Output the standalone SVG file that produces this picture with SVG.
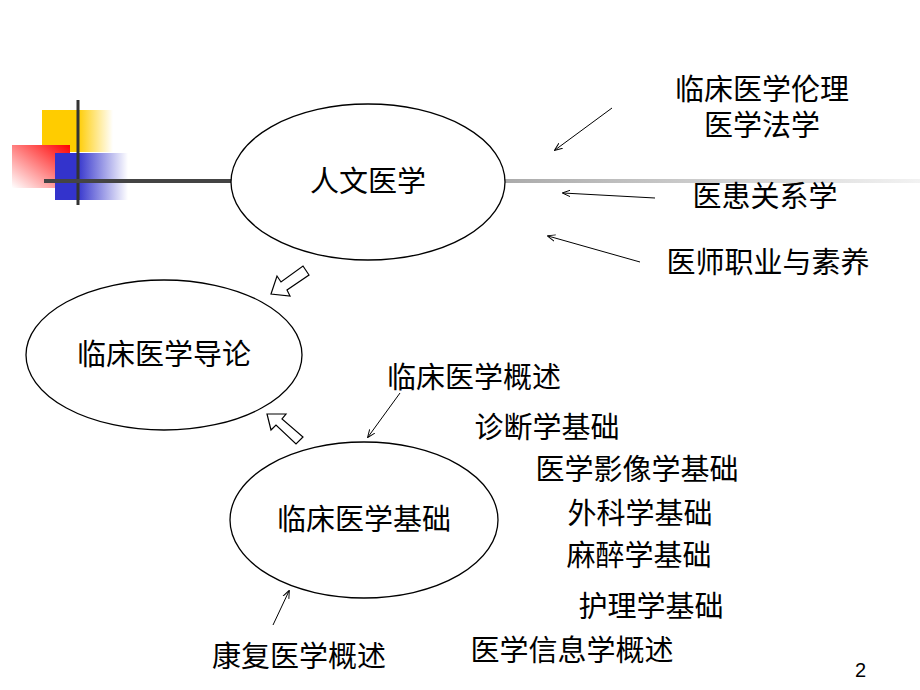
<svg xmlns="http://www.w3.org/2000/svg" width="920" height="690" viewBox="0 0 920 690">
<defs>
<linearGradient id="gy" x1="0" x2="1"><stop offset="0.5" stop-color="#ffcc00"/><stop offset="1" stop-color="#fff"/></linearGradient>
<linearGradient id="gr" x1="1" y1="0" x2="0" y2="1"><stop offset="0" stop-color="#ff0000"/><stop offset="1" stop-color="#fff"/></linearGradient>
<linearGradient id="gb" x1="0" x2="1"><stop offset="0.3" stop-color="#3333cc"/><stop offset="1" stop-color="#fff"/></linearGradient>
<linearGradient id="gl" x1="0" x2="1"><stop offset="0" stop-color="#aaa"/><stop offset="1" stop-color="#f2f2f2"/></linearGradient>
<marker id="ah" viewBox="0 0 10 10" refX="9" refY="5" markerWidth="8" markerHeight="8" orient="auto"><path d="M0,1 L10,5 L0,9" fill="none" stroke="#000" stroke-width="1.2"/></marker>
<style>
.t{font-family:"Liberation Sans","Noto Sans CJK SC",sans-serif;font-size:29px;fill:#000}
.e{fill:#fff;stroke:#000;stroke-width:1.3}
.c{stroke:#000;stroke-width:1;fill:none;marker-end:url(#ah)}
.b{fill:#fff;stroke:#000;stroke-width:1.2}
</style>
</defs>
<g id="decor">
<rect x="42" y="110" width="71" height="42" fill="url(#gy)"/>
<rect x="12" y="145" width="58" height="43" fill="url(#gr)"/>
<rect x="55" y="153" width="73" height="47" fill="url(#gb)"/>
<line x1="78" y1="100" x2="78" y2="205" stroke="#333" stroke-width="3"/>
<line x1="44" y1="181" x2="232" y2="181" stroke="#444" stroke-width="4"/>
<rect x="500" y="179" width="420" height="4" fill="url(#gl)"/>
</g>
<g id="n1"><ellipse class="e" cx="368" cy="182" rx="137" ry="78"/><text class="t" x="368" y="192" text-anchor="middle">人文医学</text></g>
<g id="n2"><ellipse class="e" cx="164" cy="355" rx="138" ry="75"/><text class="t" x="164" y="365" text-anchor="middle">临床医学导论</text></g>
<g id="n3"><ellipse class="e" cx="364" cy="520" rx="134" ry="78"/><text class="t" x="364" y="530" text-anchor="middle">临床医学基础</text></g>
<g id="labels" class="t">
<text x="762" y="100" text-anchor="middle">临床医学伦理</text>
<text x="762" y="136" text-anchor="middle">医学法学</text>
<text x="765" y="207" text-anchor="middle">医患关系学</text>
<text x="768" y="273" text-anchor="middle">医师职业与素养</text>
<text x="474" y="388" text-anchor="middle">临床医学概述</text>
<text x="547" y="438" text-anchor="middle">诊断学基础</text>
<text x="637" y="480" text-anchor="middle">医学影像学基础</text>
<text x="640" y="524" text-anchor="middle">外科学基础</text>
<text x="639" y="566" text-anchor="middle">麻醉学基础</text>
<text x="651" y="617" text-anchor="middle">护理学基础</text>
<text x="572" y="661" text-anchor="middle">医学信息学概述</text>
<text x="299" y="667" text-anchor="middle">康复医学概述</text>
<text x="855" y="677" style="font-size:20px">2</text>
</g>
<g id="connectors">
<line class="c" x1="612" y1="108" x2="555" y2="150"/>
<line class="c" x1="655" y1="198" x2="563" y2="193"/>
<line class="c" x1="640" y1="262" x2="548" y2="236"/>
<line class="c" x1="400" y1="393" x2="368" y2="437"/>
<line class="c" x1="273" y1="625" x2="289" y2="591"/>
<path class="b" d="M271,294 L277,276 L281,282 L303,266 L309,275 L287,290 L290,296 Z"/>
<path class="b" d="M267,414 L286,414 L282,419 L303,437 L296,444 L276,425 L271,430 Z"/>
</g>
</svg>
